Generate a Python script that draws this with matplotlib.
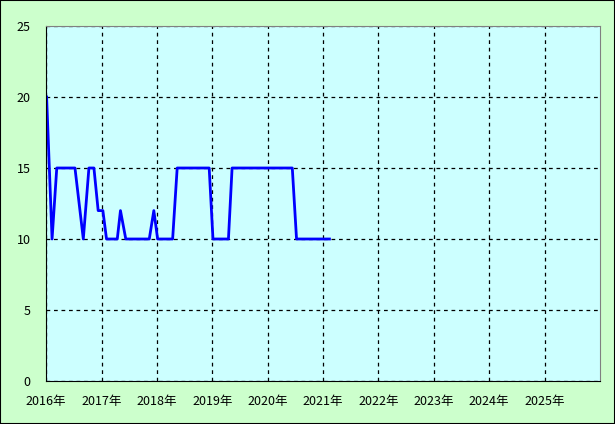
import datetime as dt
import matplotlib
matplotlib.use('Agg')
import matplotlib.pyplot as plt
from matplotlib.patches import Rectangle

plt.rcParams['font.family'] = ['Noto Sans CJK JP', 'DejaVu Sans']

# Data
dates = ['2016-01-05', '2016-02-10', '2016-03-12', '2016-07-10', '2016-09-03',
         '2016-10-10', '2016-11-12', '2016-12-10', '2017-01-10', '2017-02-03',
         '2017-04-15', '2017-05-06', '2017-06-10', '2017-11-12', '2017-12-12',
         '2018-01-06', '2018-04-15', '2018-05-15', '2018-12-12', '2019-01-06',
         '2019-04-18', '2019-05-12', '2020-06-12', '2020-07-10', '2021-02-12']
values = [20, 10, 15, 15, 10,
          15, 15, 12, 12, 10,
          10, 12, 10, 10, 12,
          10, 10, 15, 15, 10,
          10, 15, 15, 10, 10]
years = list(range(2016, 2026))
year_labels = [f'{y}年' for y in years]

x = [dt.datetime.strptime(d, '%Y-%m-%d') for d in dates]

fig = plt.figure(figsize=(6.15, 4.24), dpi=100, facecolor='#ccffcc')
fig.patches.append(Rectangle((0, 0), 1, 1, transform=fig.transFigure,
                             fill=False, edgecolor='black', linewidth=1.5))

ax = fig.add_axes([46 / 615, 43 / 424, 554 / 615, 355 / 424])
ax.set_facecolor('#ccffff')
ax.plot(x, values, color='#0000ff', linewidth=2)

ax.set_xlim(dt.datetime(2016, 1, 1), dt.datetime(2026, 1, 1))
ax.set_ylim(0, 25)
ax.set_yticks([0, 5, 10, 15, 20, 25])
ax.set_xticks([dt.datetime(y, 1, 1) for y in years])
ax.set_xticklabels(year_labels)

ax.grid(True, color='black', linestyle=(0, (3, 3)), linewidth=0.9)
ax.tick_params(length=0, labelsize=9, colors='black')
ax.tick_params(axis='x', pad=10)
ax.tick_params(axis='y', pad=11)

ax.spines['left'].set_color('black')
ax.spines['bottom'].set_color('black')
ax.spines['top'].set_color('#808080')
ax.spines['right'].set_color('#808080')

fig.savefig('out.png', dpi=100, facecolor=fig.get_facecolor())
